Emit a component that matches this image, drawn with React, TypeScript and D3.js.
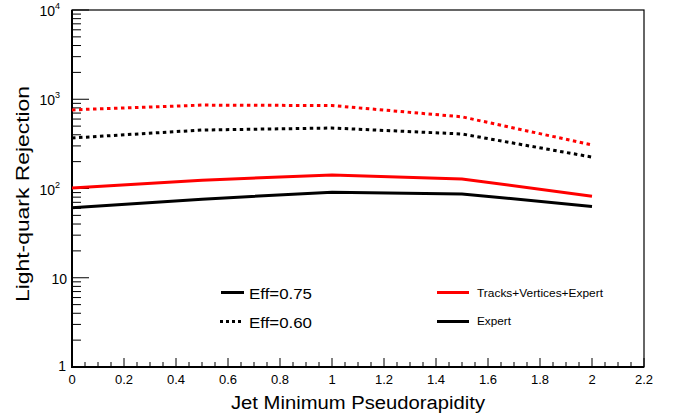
import React from "react";
import * as d3 from "d3";

const etaValues = [0, 0.5, 1, 1.5, 2];
const tvExpert060 = [760, 860, 850, 635, 308];
const expert060 = [368, 452, 476, 408, 225];
const tvExpert075 = [101, 124, 142, 128, 82];
const expert075 = [61, 76, 91, 87, 63];
const xTicks = [0, 0.2, 0.4, 0.6, 0.8, 1, 1.2, 1.4, 1.6, 1.8, 2, 2.2];
const yDecades = [1, 10, 100, 1000, 10000];

const series = [
  { values: tvExpert060, color: "#ff0000", dashed: true },
  { values: expert060, color: "#000000", dashed: true },
  { values: tvExpert075, color: "#ff0000", dashed: false },
  { values: expert075, color: "#000000", dashed: false },
];

export default function App() {
  const W = 673, H = 417;
  const left = 72, right = 644, top = 10, bottom = 367;
  const x = d3.scaleLinear().domain([0, 2.2]).range([left, right]);
  const y = d3.scaleLog().domain([1, 10000]).range([bottom, top]);
  const line = d3
    .line<number>()
    .x((_, i) => x(etaValues[i]))
    .y((v) => y(v));

  const minorX = d3.range(0, 2.2001, 0.05).map((v) => +v.toFixed(2));
  const minorY: number[] = [];
  for (let d = 1; d < 10000; d *= 10) for (let k = 2; k <= 9; k++) minorY.push(d * k);

  const font = "'Liberation Sans', Arial, Helvetica, sans-serif";

  return (
    <svg width={W} height={H} style={{ position: "absolute", left: 0, top: 0, background: "#fff" }} fontFamily={font}>
      <rect x={0} y={0} width={W} height={H} fill="#fff" />
      {/* frame */}
      <rect x={left} y={top} width={right - left} height={bottom - top} fill="none" stroke="#000" strokeWidth={1.2} />
      <line x1={left} x2={left} y1={top} y2={bottom + 1} stroke="#000" strokeWidth={2} />
      <line x1={left - 1} x2={right} y1={bottom} y2={bottom} stroke="#000" strokeWidth={2} />
      {/* x ticks */}
      {minorX.map((v) => {
        const major = Math.abs(Math.round(v * 5) - v * 5) < 1e-6;
        return (
          <line key={"xt" + v} x1={x(v)} x2={x(v)} y1={bottom} y2={bottom - (major ? 9 : 5)} stroke="#000" strokeWidth={1} />
        );
      })}
      {xTicks.map((v) => (
        <text key={"xl" + v} x={x(v)} y={bottom + 17} fontSize={13} textAnchor="middle">
          {String(v)}
        </text>
      ))}
      {/* y ticks */}
      {minorY.map((v) => (
        <line key={"ym" + v} x1={left} x2={left + 9} y1={y(v)} y2={y(v)} stroke="#000" strokeWidth={1} />
      ))}
      {yDecades.map((v) => (
        <line key={"yM" + v} x1={left} x2={left + 17} y1={y(v)} y2={y(v)} stroke="#000" strokeWidth={1} />
      ))}
      {yDecades.map((v) => {
        const exp = Math.round(Math.log10(v));
        if (exp === 0)
          return (
            <text key={"yl" + v} x={left - 6} y={y(v) + 4} fontSize={14} textAnchor="end">
              1
            </text>
          );
        if (exp === 1)
          return (
            <text key={"yl" + v} x={left - 5} y={y(v) + 6} fontSize={14} textAnchor="end">
              10
            </text>
          );
        return (
          <text key={"yl" + v} x={left - 12} y={y(v) + 6} fontSize={14} textAnchor="end">
            10
            <tspan fontSize={9} dy={-7}>{exp}</tspan>
          </text>
        );
      })}
      {/* series */}
      {series.map((s, i) => (
        <path
          key={"s" + i}
          d={line(s.values) || ""}
          fill="none"
          stroke={s.color}
          strokeWidth={3}
          strokeDasharray={s.dashed ? "3.5,3.5" : undefined}
        />
      ))}
      {/* legends */}
      <line x1={221} x2={244} y1={292.5} y2={292.5} stroke="#000" strokeWidth={3} />
      <text x={249} y={299} fontSize={15} textLength={63} lengthAdjust="spacingAndGlyphs">Eff=0.75</text>
      <line x1={220} x2={241} y1={321.5} y2={321.5} stroke="#000" strokeWidth={3} strokeDasharray="3,3" />
      <text x={249} y={327.5} fontSize={15} textLength={63} lengthAdjust="spacingAndGlyphs">Eff=0.60</text>
      <line x1={437} x2={469} y1={292.5} y2={292.5} stroke="#ff0000" strokeWidth={3} />
      <text x={477} y={296.7} fontSize={11.5} textLength={126} lengthAdjust="spacingAndGlyphs">Tracks+Vertices+Expert</text>
      <line x1={437} x2={469} y1={321.5} y2={321.5} stroke="#000" strokeWidth={3} />
      <text x={477} y={325.3} fontSize={11.5} textLength={34} lengthAdjust="spacingAndGlyphs">Expert</text>
      {/* axis titles */}
      <text x={231} y={409} fontSize={18} textLength={254} lengthAdjust="spacingAndGlyphs">
        Jet Minimum Pseudorapidity
      </text>
      <text
        transform={`translate(29, 302) rotate(-90)`}
        fontSize={17.5}
        textLength={216}
        lengthAdjust="spacingAndGlyphs"
      >
        Light-quark Rejection
      </text>
    </svg>
  );
}
